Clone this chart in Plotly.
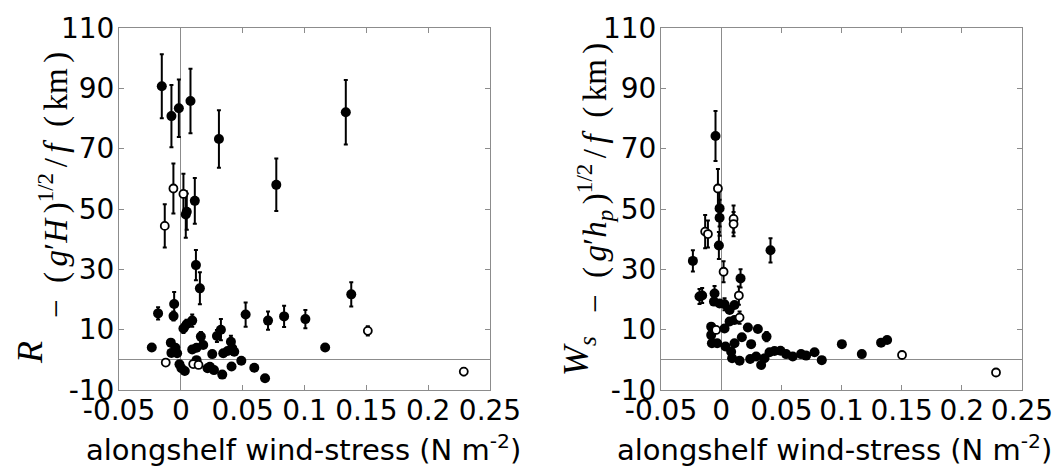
import plotly.graph_objects as go

# ---------------- data ----------------
# Left panel (R_-) filled markers
l_fill_x = [-0.0154, -0.0076, -0.0016, 0.0078, 0.0308, 0.0772, 0.1334, 0.0113, 0.0040, 0.0048,
            0.0122, 0.0154, -0.0184, -0.0054, -0.0059, 0.0021, 0.0047, 0.0092, 0.0324, 0.0292,
            0.0524, 0.0705, 0.0835, 0.1007, 0.1378, 0.1167, -0.0235,
            -0.0081, -0.0076, -0.0044, -0.0030, -0.0011, 0.0005, 0.0032, 0.0127, 0.0092, 0.0127,
            0.0162, 0.0181, 0.0216, 0.0235, 0.0268, 0.0254, 0.0335, 0.0343, 0.0378, 0.0405,
            0.0416, 0.0432, 0.0410, 0.0489, 0.0594, 0.0681]
l_fill_y = [90.7, 80.8, 83.4, 85.8, 73.2, 58.0, 82.1, 52.7, 48.2, 49.1,
            31.4, 23.7, 15.4, 18.5, 14.5, 10.4, 11.8, 13.0, 10.0, 7.9,
            15.0, 13.0, 14.4, 13.5, 21.7, 4.1, 4.1,
            5.7, 2.3, 4.0, 2.2, -1.5, -2.8, -3.7, -0.1, 3.4, 4.0,
            7.7, 4.9, -2.8, -2.3, -3.4, 1.9, -4.9, 2.2, 2.9, 6.0,
            3.8, 2.7, -2.2, -0.3, -2.6, -6.1]
l_fill_err = [10.6, 10.3, 9.5, 10.7, 9.5, 8.7, 10.7, 7.6, 7.7, 6.0,
              5.0, 5.3, 2.0, 4.0, 1.5, 1.5, 1.5, 2.0, 3.5, 2.0,
              4.0, 3.0, 3.5, 3.0, 4.0, 0, 0,
              0, 0, 0, 0, 0, 0, 0, 0, 0, 0,
              1.5, 0, 0, 0, 0, 0, 0, 0, 0, 2.0,
              0, 0, 0, 0, 0, 0]
# Left panel open markers
l_open_x = [-0.0060, 0.0021, -0.0130, -0.0122, 0.0100, 0.0143, 0.1512, 0.2288]
l_open_y = [56.8, 55.0, 44.4, -0.9, -1.4, -1.7, 9.6, -3.9]
l_open_err = [8.3, 6.7, 7.2, 0, 0, 0, 1.5, 1.2]

# Right panel (W_s-) filled markers
r_fill_x = [-0.0047, -0.0013, -0.0013, -0.0019, -0.0235, 0.0410, 0.0161, -0.0180, -0.0158, -0.0055,
            -0.0060, -0.0013, 0.0028, 0.0070, 0.0111, 0.0111, 0.0070, 0.0028, -0.0083, -0.0083,
            -0.0077, -0.0033, 0.0036, 0.0083, 0.0091, 0.0153, 0.0111, 0.0172, 0.0222, 0.0305,
            0.0249, 0.0377, 0.0241, 0.0291, 0.0332, 0.0360, 0.0402, 0.0443, 0.0493, 0.0540,
            0.0595, 0.0664, 0.0706, 0.0776, 0.0836, 0.1003, 0.1169, 0.1329, 0.1379]
r_fill_y = [74.2, 50.2, 47.1, 37.9, 32.8, 36.3, 27.0, 21.0, 21.3, 22.0,
            19.3, 18.7, 18.4, 16.5, 18.2, 13.2, 12.7, 10.4, 11.0, 8.2,
            5.5, 5.5, 4.4, 2.7, 0.5, -0.3, 5.5, 7.5, 10.7, 10.2,
            5.2, 7.7, 0.3, 1.1, -1.7, 0.5, 2.5, 2.9, 3.0, 1.9,
            1.1, 1.9, 1.4, 2.5, -0.1, 5.2, 1.9, 5.7, 6.6]
r_fill_err = [8.3, 6.0, 6.0, 4.5, 3.5, 4.0, 3.0, 2.5, 2.5, 2.5,
              0, 0, 2.0, 0, 0, 0, 0, 0, 0, 0,
              0, 0, 0, 0, 0, 0, 0, 0, 0, 0,
              0, 1.5, 0, 0, 0, 0, 0, 0, 0, 0,
              0, 0, 0, 0, 0, 0, 0, 0, 0]
# Right panel open markers
r_open_x = [-0.0027, -0.0133, -0.0110, 0.0103, 0.0103, 0.0020, 0.0147, 0.0153, -0.0042, 0.1503, 0.2284]
r_open_y = [56.8, 42.5, 41.7, 46.7, 45.0, 29.2, 21.3, 14.0, 9.9, 1.6, -4.2]
r_open_err = [6.5, 5.5, 4.5, 4.5, 4.0, 3.5, 3.0, 2.0, 0, 0, 0]

x_tickvals = [-0.05, 0, 0.05, 0.1, 0.15, 0.2, 0.25]
x_ticktext = ["-0.05", "0", "0.05", "0.1", "0.15", "0.2", "0.25"]
y_tickvals = [-10, 10, 30, 50, 70, 90, 110]
y_ticktext = ["-10", "10", "30", "50", "70", "90", "110"]

# ---------------- figure ----------------
W, H = 1063, 472
fig = go.Figure()


def err(arr):
    return dict(type="data", array=arr, visible=True, color="black", thickness=2, width=2)


def add_panel(xa, ya, fx, fy, fe, ox, oy, oe):
    fig.add_trace(go.Scatter(x=fx, y=fy, mode="markers", error_y=err(fe),
                             marker=dict(color="black", size=10, line=dict(width=0)),
                             xaxis=xa, yaxis=ya, showlegend=False))
    fig.add_trace(go.Scatter(x=ox, y=oy, mode="markers", error_y=err(oe),
                             marker=dict(color="white", size=8, line=dict(color="black", width=1.8)),
                             xaxis=xa, yaxis=ya, showlegend=False))


add_panel("x", "y", l_fill_x, l_fill_y, l_fill_err, l_open_x, l_open_y, l_open_err)
add_panel("x2", "y2", r_fill_x, r_fill_y, r_fill_err, r_open_x, r_open_y, r_open_err)

tickfont = dict(family="DejaVu Sans", size=28, color="black")
axcommon = dict(showgrid=False, zeroline=True, zerolinecolor="#8c8c8c", zerolinewidth=1,
                showline=True, linecolor="#8c8c8c", linewidth=1, mirror="ticks",
                ticks="inside", ticklen=5, tickcolor="#8c8c8c", tickfont=tickfont)

ydom = [1 - 382 / H, 1 - 20 / H]
fig.update_layout(
    template="none",
    width=W, height=H, autosize=False,
    margin=dict(l=0, r=0, t=0, b=0),
    paper_bgcolor="white", plot_bgcolor="white",
    xaxis=dict(domain=[111 / W, 482 / W], range=[-0.05, 0.25], tickvals=x_tickvals,
               ticktext=x_ticktext, anchor="y", ticklabelstandoff=-5, **axcommon),
    yaxis=dict(domain=ydom, range=[-10, 110], tickvals=y_tickvals, ticktext=y_ticktext,
               anchor="x", ticklabelstandoff=-2, **axcommon),
    xaxis2=dict(domain=[653 / W, 1014 / W], range=[-0.05, 0.25], tickvals=x_tickvals,
                ticktext=x_ticktext, anchor="y2", ticklabelstandoff=-5, **axcommon),
    yaxis2=dict(domain=ydom, range=[-10, 110], tickvals=y_tickvals, ticktext=y_ticktext,
                anchor="x2", ticklabelstandoff=-2, **axcommon),
)

titlefont = dict(family="DejaVu Sans", size=29, color="black")
mathfont = dict(family="Liberation Serif", size=33, color="black")
bigmath = dict(family="Liberation Serif", size=36, color="black")
sp, th = "\u2002", "\u2006"
ann = []
for cx in [295, 826]:
    ann.append(dict(x=cx / W, y=1 - 440 / H, xref="paper", yref="paper",
                    text="alongshelf wind-stress (N m<sup>-2</sup>)", showarrow=False,
                    font=titlefont, xanchor="center", yanchor="middle"))
# left y title
ann.append(dict(x=22 / W, y=1 - 345 / H, xref="paper", yref="paper",
                text="<i>R</i>", showarrow=False, textangle=-90,
                font=bigmath, xanchor="center", yanchor="middle"))
ann.append(dict(x=45 / W, y=1 - 177 / H, xref="paper", yref="paper",
                text="−" + sp + "(" + th + "<i>g</i>′<i>H</i>" + th + ")<sup>1/2</sup>" + th + "/"
                     + th + "<i>f</i>" + sp + "(" + th + "km" + th + ")",
                showarrow=False, textangle=-90, font=mathfont,
                xanchor="center", yanchor="middle"))
# right y title
ann.append(dict(x=570 / W, y=1 - 348 / H, xref="paper", yref="paper",
                text="<i>W</i><sub><i>s</i></sub>", showarrow=False, textangle=-90,
                font=bigmath, xanchor="center", yanchor="middle"))
ann.append(dict(x=587 / W, y=1 - 170 / H, xref="paper", yref="paper",
                text="−" + sp + "(" + th + "<i>g</i>′<i>h</i><sub><i>p</i></sub>" + th
                     + ")<sup>1/2</sup>" + th + "/" + th + "<i>f</i>" + sp + "(" + th + "km" + th + ")",
                showarrow=False, textangle=-90, font=mathfont,
                xanchor="center", yanchor="middle"))
fig.update_layout(annotations=ann)

fig.write_html("out.html")
